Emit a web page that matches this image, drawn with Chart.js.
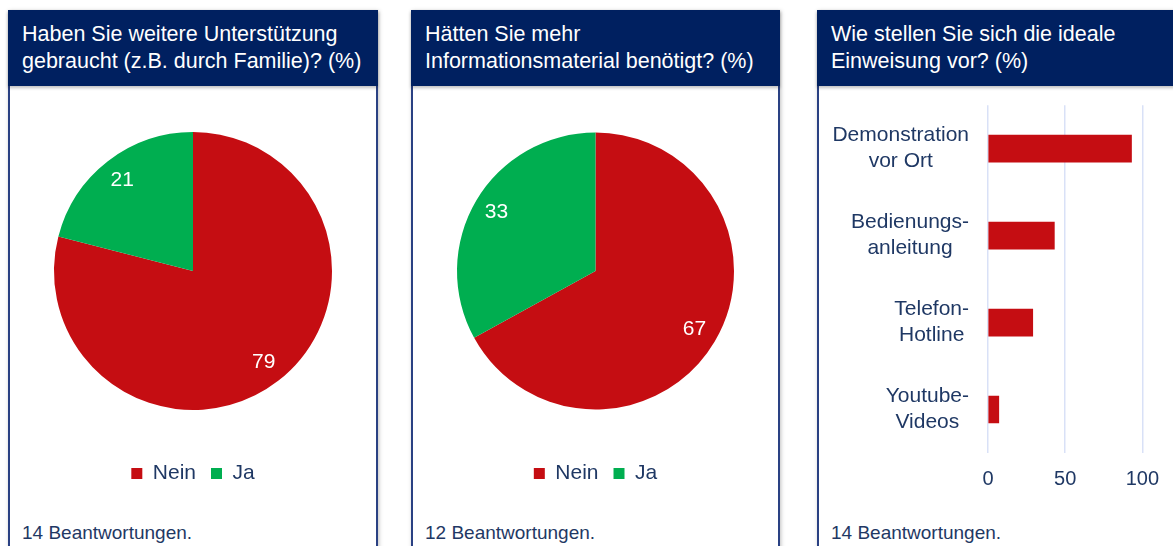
<!DOCTYPE html>
<html>
<head>
<meta charset="utf-8">
<script src="https://cdn.jsdelivr.net/npm/chart.js@4.4.1/dist/chart.umd.min.js"></script>
<style>
  html, body { margin: 0; padding: 0; background: #ffffff; width: 1173px; height: 546px; overflow: hidden; font-family: "Liberation Sans", Arial, sans-serif; }
  .panel { position: absolute; top: 10px; height: 560px; box-sizing: border-box; border-left: 2px solid #2a4183; border-right: 2px solid #2a4183; background: #fff; box-shadow: 1px 1px 4px rgba(0,0,0,0.25); }
  .head { position: absolute; left: -2px; right: -2px; top: 0; height: 76px; background: #002060; color: #fff; font-size: 21.5px; line-height: 27px; padding: 11px 0 0 14px; box-sizing: border-box; box-shadow: 0 2px 3px rgba(0,0,0,0.25); }
  .foot { position: absolute; left: 12px; top: 512px; font-size: 19px; color: #1f3864; white-space: nowrap; }
  canvas { position: absolute; }
</style>
</head>
<body>
<div class="panel" id="p1" style="left:8px;width:370px;">
  <div class="head">Haben Sie weitere Unterstützung<br>gebraucht (z.B. durch Familie)? (%)</div>
  <div class="foot">14 Beantwortungen.</div>
</div>
<div class="panel" id="p2" style="left:411px;width:369px;">
  <div class="head">Hätten Sie mehr<br>Informationsmaterial benötigt? (%)</div>
  <div class="foot">12 Beantwortungen.</div>
</div>
<div class="panel" id="p3" style="left:817px;width:372px;">
  <div class="head">Wie stellen Sie sich die ideale<br>Einweisung vor? (%)</div>
  <div class="foot">14 Beantwortungen.</div>
</div>

<canvas id="c1" width="366" height="408" style="left:10px;top:86px;width:366px;height:408px;"></canvas>
<canvas id="c2" width="365" height="408" style="left:413px;top:86px;width:365px;height:408px;"></canvas>
<canvas id="c3" width="354" height="429" style="left:819px;top:86px;width:354px;height:429px;"></canvas>

<script>
// ---- data ----
const pieCategories = ['Nein', 'Ja'];
const support = [79, 21];
const infoMaterial = [67, 33];
const instructionCategories = [
  ['Demonstration', 'vor Ort'],
  ['Bedienungs-', 'anleitung'],
  ['Telefon-', 'Hotline'],
  ['Youtube-', 'Videos']
];
const instructionValues = [93, 43, 29, 7];
const xTicks = [0, 50, 100];

const RED = '#c50d12';
const GREEN = '#00ae50';
const NAVY = '#1f3864';
const FONT = '"Liberation Sans", Arial, sans-serif';

const pieLabelPlugin = {
  id: 'pieLabels',
  afterDatasetsDraw(chart) {
    const ctx = chart.ctx;
    const meta = chart.getDatasetMeta(0);
    const data = chart.data.datasets[0].data;
    ctx.save();
    ctx.fillStyle = '#ffffff';
    ctx.font = '21px ' + FONT;
    ctx.textAlign = 'center';
    ctx.textBaseline = 'middle';
    meta.data.forEach((arc, i) => {
      const a = (arc.startAngle + arc.endAngle) / 2;
      const r = arc.outerRadius * 0.83;
      ctx.fillText(String(data[i]), arc.x + Math.cos(a) * r, arc.y + Math.sin(a) * r);
    });
    ctx.restore();
  }
};

function makePie(id, values) {
  new Chart(document.getElementById(id), {
    type: 'pie',
    data: {
      labels: pieCategories,
      datasets: [{ data: values, backgroundColor: [RED, GREEN], borderWidth: 0 }]
    },
    options: {
      responsive: false,
      animation: false,
      layout: { padding: { top: 8, left: 44, right: 44, bottom: 0 } },
      plugins: {
        tooltip: { enabled: false },
        legend: {
          position: 'bottom',
          labels: {
            color: NAVY,
            font: { family: FONT, size: 21 },
            boxWidth: 11,
            boxHeight: 11,
            padding: 15
          }
        }
      }
    },
    plugins: [pieLabelPlugin]
  });
}
makePie('c1', support);
makePie('c2', infoMaterial);

const yLabelPlugin = {
  id: 'yLabels',
  afterDraw(chart) {
    const ctx = chart.ctx;
    const scale = chart.scales.y;
    const pad = scale.options.ticks.padding;
    ctx.save();
    ctx.fillStyle = NAVY;
    ctx.font = '21px ' + FONT;
    ctx.textAlign = 'center';
    ctx.textBaseline = 'middle';
    chart.data.labels.forEach((lines, i) => {
      const w = Math.max(...lines.map(l => ctx.measureText(l).width));
      const cx = scale.right - pad - w / 2;
      const y = scale.getPixelForTick(i);
      const lh = 26;
      lines.forEach((l, j) => {
        ctx.fillText(l, cx, y + (j - (lines.length - 1) / 2) * lh);
      });
    });
    ctx.restore();
  }
};

new Chart(document.getElementById('c3'), {
  type: 'bar',
  data: {
    labels: instructionCategories,
    datasets: [{ data: instructionValues, backgroundColor: RED, barThickness: 27, borderWidth: 0 }]
  },
  options: {
    indexAxis: 'y',
    responsive: false,
    animation: false,
    layout: { padding: { top: 19, left: 11, right: 27, bottom: 10 } },
    plugins: { legend: { display: false }, tooltip: { enabled: false } },
    scales: {
      x: {
        min: 0, max: 100,
        afterBuildTicks(axis) { axis.ticks = xTicks.map(v => ({ value: v })); },
        grid: { color: '#d9e1f7', lineWidth: 1.5, drawTicks: false },
        border: { display: false },
        ticks: { color: NAVY, font: { family: FONT, size: 20 }, padding: 14 }
      },
      y: {
        grid: { display: false, drawTicks: false },
        border: { display: false },
        ticks: { color: 'rgba(0,0,0,0)', font: { family: FONT, size: 21, lineHeight: 0.01 }, padding: 19 }
      }
    }
  },
  plugins: [yLabelPlugin]
});
</script>
</body>
</html>
